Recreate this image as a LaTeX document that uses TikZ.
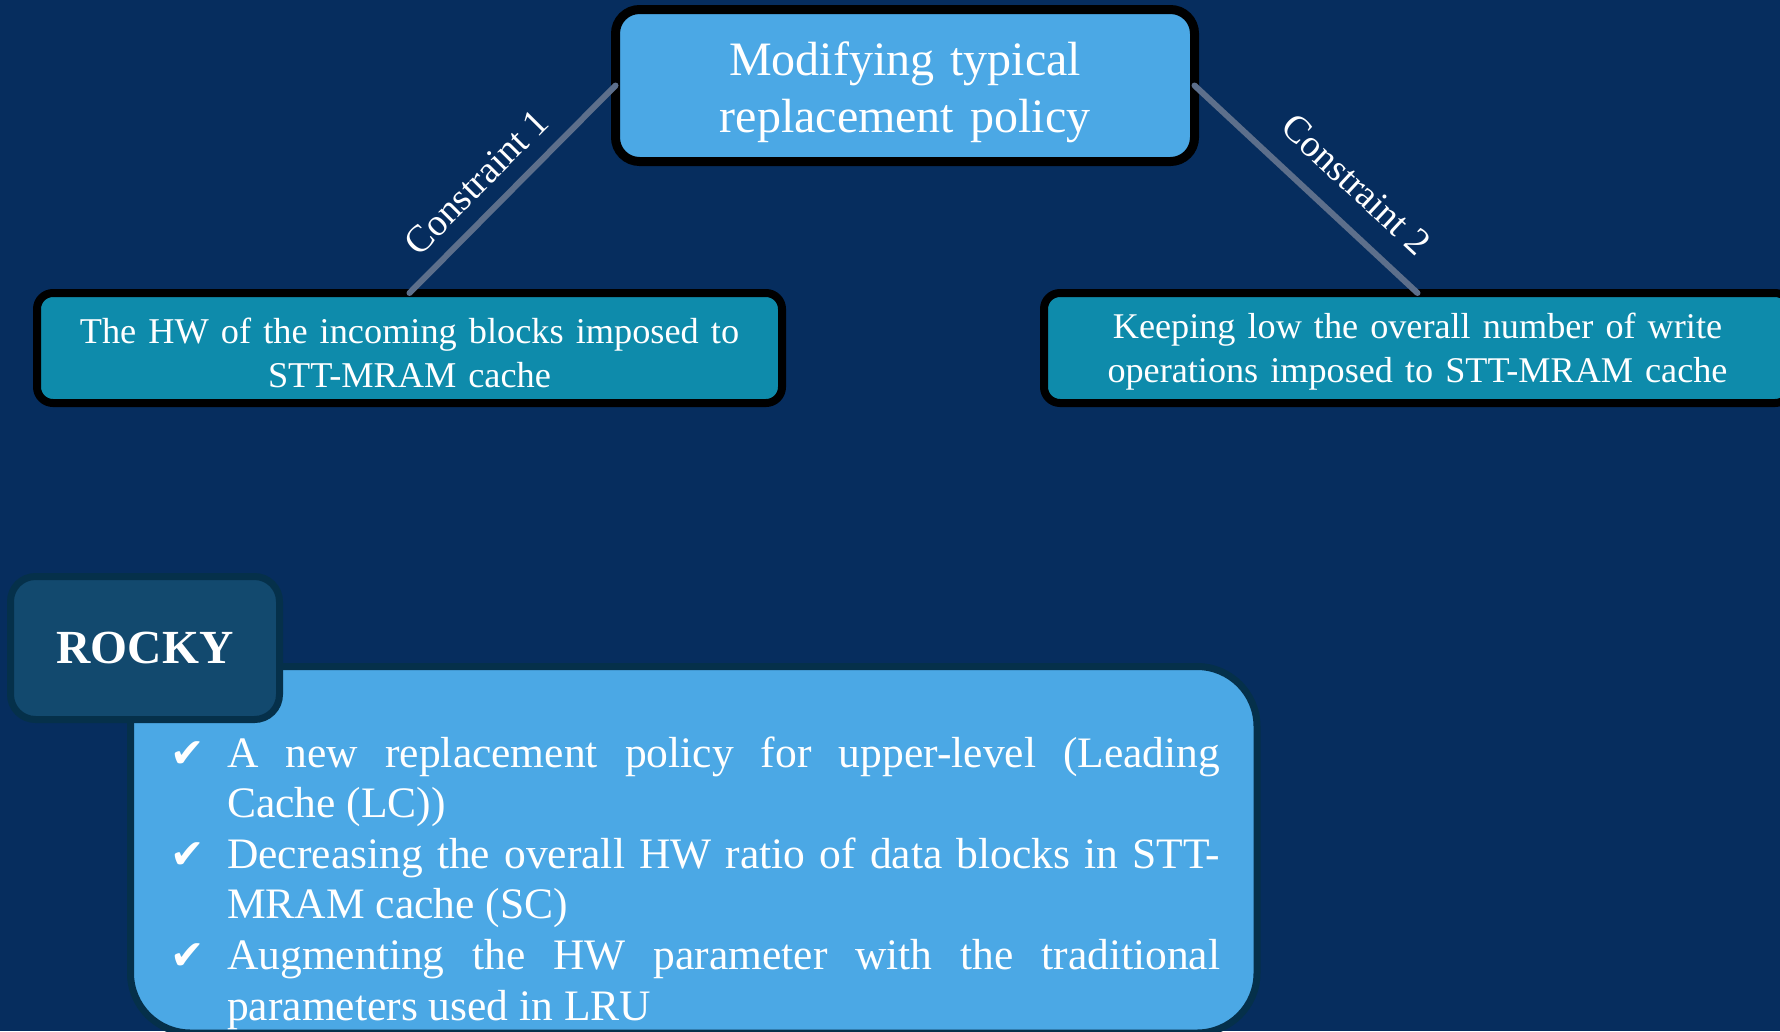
\documentclass[tikz,border=0pt]{standalone}
\usepackage{fontspec}
\setmainfont{Liberation Serif}
\newfontfamily\symfont{DejaVu Sans}
\definecolor{bgnavy}{HTML}{062D5E}
\definecolor{lightblue}{HTML}{4BA8E5}
\definecolor{tealbox}{HTML}{0E8BAB}
\definecolor{rockyfill}{HTML}{12496E}
\definecolor{darkedge}{HTML}{05304A}
\definecolor{conngray}{HTML}{5D6F8B}
\newcommand\chkmark{\hangindent=57pt\hangafter=1\noindent\makebox[57pt][l]{\symfont\fontsize{41}{41}\selectfont ✔}}
\begin{document}
\begin{tikzpicture}[x=1pt,y=-1pt,
  topbox/.style={draw=black, line width=9pt, fill=lightblue, rounded corners=24pt, inner sep=0pt, outer sep=0pt},
  consbox/.style={draw=black, line width=8pt, fill=tealbox, rounded corners=16pt, inner sep=0pt, outer sep=0pt},
  bigbox/.style={draw=darkedge, line width=7pt, fill=lightblue, rounded corners=60pt, inner sep=0pt, outer sep=0pt},
  rockybox/.style={draw=darkedge, line width=7pt, fill=rockyfill, rounded corners=25pt, inner sep=0pt, outer sep=0pt, text=white},
  conn/.style={draw=conngray, line width=6pt, line cap=round},
  lbl/.style={text=white, font=\fontsize{38}{38}\selectfont, inner sep=0pt, sloped},
  txt/.style={text=white, inner sep=0pt}
]
\useasboundingbox (0,0) rectangle (1780,1031);
\clip (0,0) rectangle (1780,1031);
\fill[bgnavy] (0,0) rectangle (1780,1031);

% boxes
\node[topbox, minimum width=579pt, minimum height=152pt] (tbox) at (905,85.5) {};
\node[consbox, minimum width=745pt, minimum height=110pt] (lbox) at (409.5,348) {};
\node[consbox, minimum width=747pt, minimum height=110pt] (rbox) at (1417.5,348) {};
\node[bigbox, minimum width=1126.5pt, minimum height=366.5pt] (big) at (693.75,849.75) {};
\node[rockybox, minimum width=269pt, minimum height=143pt, font=\fontsize{47.5}{47.5}\selectfont\bfseries] (rocky) at (145,648) {ROCKY};

% texts
\node[txt, text width=620pt, align=center, font=\fontsize{48}{57}\selectfont, anchor=base] (ttext) at (905,75) {Modifying typical\\replacement policy};
\node[txt, text width=720pt, align=center, font=\fontsize{36.3}{44}\selectfont, anchor=base] (ltext) at (409.5,343) {The HW of the incoming blocks imposed to\\STT-MRAM cache};
\node[txt, text width=720pt, align=center, font=\fontsize{36.2}{44}\selectfont, anchor=base] (rtext) at (1417.5,338) {Keeping low the overall number of write\\operations imposed to STT-MRAM cache};
\node[txt, text width=1050pt, align=justify, font=\fontsize{43.5}{50.6}\selectfont, anchor=base west] (body) at (170,767) {\chkmark A new replacement policy for upper-level (Leading\linebreak Cache (LC))\par
\chkmark Decreasing the overall HW ratio of data blocks in STT-\linebreak MRAM cache (SC)\par
\chkmark Augmenting the HW parameter with the traditional\linebreak parameters used in LRU\par};

% connectors
\draw[conn] (lbox.north) -- node[lbl, above=15pt, pos=0.43] (c1) {Constraint 1} (tbox.west);
\draw[conn] (tbox.east) -- node[lbl, above=22pt, pos=0.61] (c2) {Constraint 2} (rbox.north);
\end{tikzpicture}
\end{document}
